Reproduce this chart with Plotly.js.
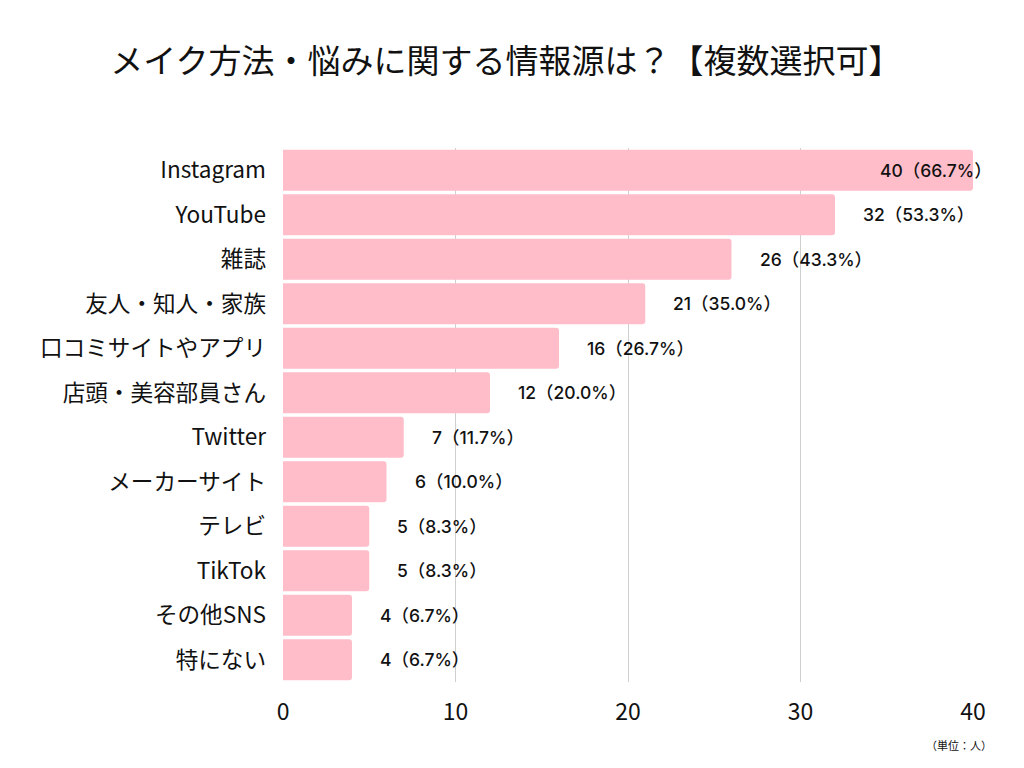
<!DOCTYPE html>
<html>
<head>
<meta charset="utf-8">
<script src="https://cdn.plot.ly/plotly-3.0.1.min.js"></script>
<style>html,body{margin:0;padding:0;background:#fff;}#chart{width:1024px;height:768px;}</style>
</head>
<body>
<div id="chart"></div>
<script>
const categories = ["Instagram","YouTube","雑誌","友人・知人・家族","口コミサイトやアプリ","店頭・美容部員さん","Twitter","メーカーサイト","テレビ","TikTok","その他SNS","特にない"];
const counts = [40,32,26,21,16,12,7,6,5,5,4,4];
const percents = ["66.7","53.3","43.3","35.0","26.7","20.0","11.7","10.0","8.3","8.3","6.7","6.7"];
const xTicks = [0,10,20,30,40];

const FONT = "Noto Sans CJK JP, Noto Sans, sans-serif";
const NUMFONT = "Inter, Noto Sans CJK JP, sans-serif";
const maxVal = Math.max(...counts);

const annotations = categories.map((c,i)=>({
  x: counts[i], y: c, xref:'x', yref:'y',
  text: counts[i] + "（" + percents[i] + "%）",
  showarrow:false,
  xanchor: counts[i] === maxVal ? 'right' : 'left',
  xshift: counts[i] === maxVal ? 21 : 26,
  font:{family:NUMFONT, size:17.5, weight:500, color:'#111'}
}));
annotations.push({
  xref:'paper', yref:'paper', x:1.030, y:-0.118, xanchor:'right', yanchor:'middle',
  text:'（単位：人）', showarrow:false, font:{family:FONT,size:11,color:'#111'}
});

Plotly.newPlot('chart', [{
  type:'bar', orientation:'h',
  x: counts, y: categories,
  marker:{color:'#FFBDCA', cornerradius:3},
  hoverinfo:'none'
}], {
  width:1024, height:768,
  paper_bgcolor:'#fff', plot_bgcolor:'#fff',
  margin:{l:283, r:51, t:148, b:86},
  bargap:0.08,
  title:{text:'メイク方法・悩みに関する情報源は？【複数選択可】', x:0.494, xanchor:'center', y:0.92, yanchor:'middle',
    font:{family:FONT, size:33, color:'#111'}},
  xaxis:{range:[0,40], tickvals:xTicks, showgrid:true, gridcolor:'#cfcfcf', gridwidth:1,
    zeroline:false, showline:false, ticks:'', ticklen:0, ticklabelstandoff:14,
    tickfont:{family:FONT, size:23, color:'#111'}},
  yaxis:{autorange:'reversed', showgrid:false, zeroline:false, ticks:'', ticklen:0,
    ticklabelstandoff:16,
    tickfont:{family:FONT, size:22.6, color:'#111'}},
  annotations: annotations,
  showlegend:false
}, {displayModeBar:false, staticPlot:true});
</script>
</body>
</html>
